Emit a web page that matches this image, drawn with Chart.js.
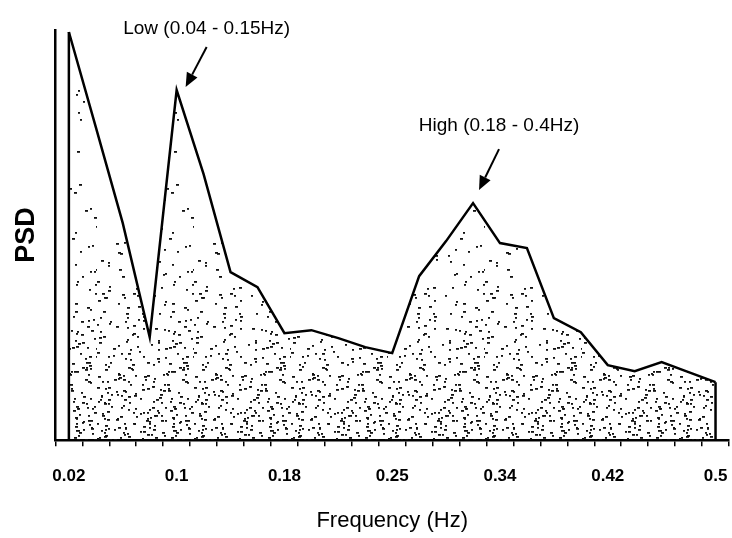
<!DOCTYPE html>
<html>
<head>
<meta charset="utf-8">
<script src="https://cdn.jsdelivr.net/npm/chart.js@4.4.1/dist/chart.umd.min.js"></script>
<style>
  html, body { margin: 0; padding: 0; background: #fff; }
  #wrap { width: 732px; height: 538px; position: relative; }
</style>
</head>
<body>
<div id="wrap"><canvas id="c" width="732" height="538"></canvas></div>
<script>
// ---- data ----
const frequencies = ['0.02','0.04','0.06','0.08','0.10','0.12','0.14','0.16','0.18','0.20','0.22','0.24','0.26',
                     '0.28','0.30','0.32','0.34','0.36','0.38','0.40','0.42','0.44','0.46','0.48','0.50'];
const psdValues = [4.08, 3.13, 2.17, 1.03, 3.50, 2.66, 1.68, 1.53, 1.07, 1.10, 1.02, 0.93, 0.87,
                   1.64, 1.99, 2.37, 1.97, 1.92, 1.22, 1.08, 0.75, 0.69, 0.78, 0.68, 0.58];
const tickLabels = ['0.02','0.1','0.18','0.25','0.34','0.42','0.5'];
const annotations = [
  { text: 'Low (0.04 - 0.15Hz)', index: 4 },
  { text: 'High (0.18 - 0.4Hz)', index: 15 }
];

// ---- stipple fill pattern (decorative, denser toward the bottom) ----
function makeStipple() {
  const pc = document.createElement('canvas');
  pc.width = 97; pc.height = 538;
  const g = pc.getContext('2d');
  g.fillStyle = '#111';
  let h = 12345;
  function next() { h = (h * 1103515245 + 12345) & 0x7fffffff; return h / 0x7fffffff; }
  for (let y = 0; y < 538; y += 3) {
    const t = Math.max(0, Math.min(1, (y - 150) / 290));
    const n = Math.round(0.6 + t * t * 9);
    for (let k = 0; k < n; k++) {
      const x = Math.floor(next() * 97);
      const w = next() < 0.4 ? 3 : 2;
      g.fillRect(x, y + Math.floor(next() * 3), w, 1.8);
    }
  }
  return g.createPattern(pc, 'repeat');
}
const ctx = document.getElementById('c').getContext('2d');
const stipple = makeStipple();

// ---- plugin: closing vertical edges + annotations with arrows ----
const extras = {
  id: 'extras',
  afterDatasetsDraw(chart) {
    const c = chart.ctx;
    const meta = chart.getDatasetMeta(0);
    const bottom = chart.chartArea.bottom;
    const first = meta.data[0], last = meta.data[meta.data.length - 1];
    c.save();
    c.strokeStyle = '#000';
    c.lineWidth = 2.5;
    c.beginPath();
    c.moveTo(first.x, bottom); c.lineTo(first.x, first.y);
    c.moveTo(last.x, bottom); c.lineTo(last.x, last.y);
    c.stroke();

    c.font = '19px "Liberation Sans", Arial, sans-serif';
    c.fillStyle = '#000';
    c.textAlign = 'center';
    c.textBaseline = 'middle';
    const offs = [
      { tx: 30, ty: -61, ax: 30, ay: -43, hx: 9, hy: -3 },
      { tx: 26, ty: -77, ax: 26, ay: -54, hx: 6, hy: -13 }
    ];
    annotations.forEach((a, i) => {
      const p = meta.data[a.index];
      const o = offs[i];
      c.fillText(a.text, p.x + o.tx, p.y + o.ty);
      const x1 = p.x + o.ax, y1 = p.y + o.ay, x2 = p.x + o.hx, y2 = p.y + o.hy;
      const ang = Math.atan2(y2 - y1, x2 - x1);
      const L = 14, W = 6;
      const bx = x2 - L * Math.cos(ang), by = y2 - L * Math.sin(ang);
      c.lineWidth = 2;
      c.beginPath(); c.moveTo(x1, y1); c.lineTo(bx, by); c.stroke();
      c.beginPath();
      c.moveTo(x2, y2);
      c.lineTo(bx + W * Math.sin(ang), by - W * Math.cos(ang));
      c.lineTo(bx - W * Math.sin(ang), by + W * Math.cos(ang));
      c.closePath(); c.fill();
    });
    c.restore();
  }
};

new Chart(ctx, {
  type: 'line',
  data: {
    labels: frequencies,
    datasets: [{
      data: psdValues,
      borderColor: '#000',
      borderWidth: 2.5,
      backgroundColor: stipple,
      fill: 'origin',
      pointRadius: 0,
      tension: 0
    }]
  },
  plugins: [extras],
  options: {
    responsive: false,
    animation: false,
    layout: { padding: { left: 6, right: 3, top: 30, bottom: 4 } },
    plugins: { legend: { display: false }, tooltip: { enabled: false } },
    scales: {
      x: {
        type: 'category',
        offset: true,
        afterFit: (s) => { s.paddingLeft = 0; s.paddingRight = 0; },
        grid: { offset: true, drawOnChartArea: false, drawTicks: true, tickLength: 6, color: '#000', lineWidth: 1.5 },
        border: { display: true, color: '#000', width: 2.5 },
        ticks: {
          autoSkip: false, maxRotation: 0, padding: 20, color: '#000',
          font: { family: '"Liberation Sans", Arial, sans-serif', size: 17, weight: 'bold' },
          callback: (v, i) => (i % 4 === 0 ? tickLabels[i / 4] : '')
        },
        title: {
          display: true, text: 'Frequency (Hz)', color: '#000',
          font: { family: '"Liberation Sans", Arial, sans-serif', size: 22 },
          padding: { top: 1, bottom: 0 }
        }
      },
      y: {
        min: 0, max: 4.1,
        grid: { display: false },
        border: { display: true, color: '#000', width: 2.5 },
        ticks: { display: false },
        title: {
          display: true, text: 'PSD', color: '#000',
          font: { family: '"Liberation Sans", Arial, sans-serif', size: 27, weight: 'bold' },
          padding: { top: 4, bottom: 5 }
        }
      }
    }
  }
});
</script>
</body>
</html>
